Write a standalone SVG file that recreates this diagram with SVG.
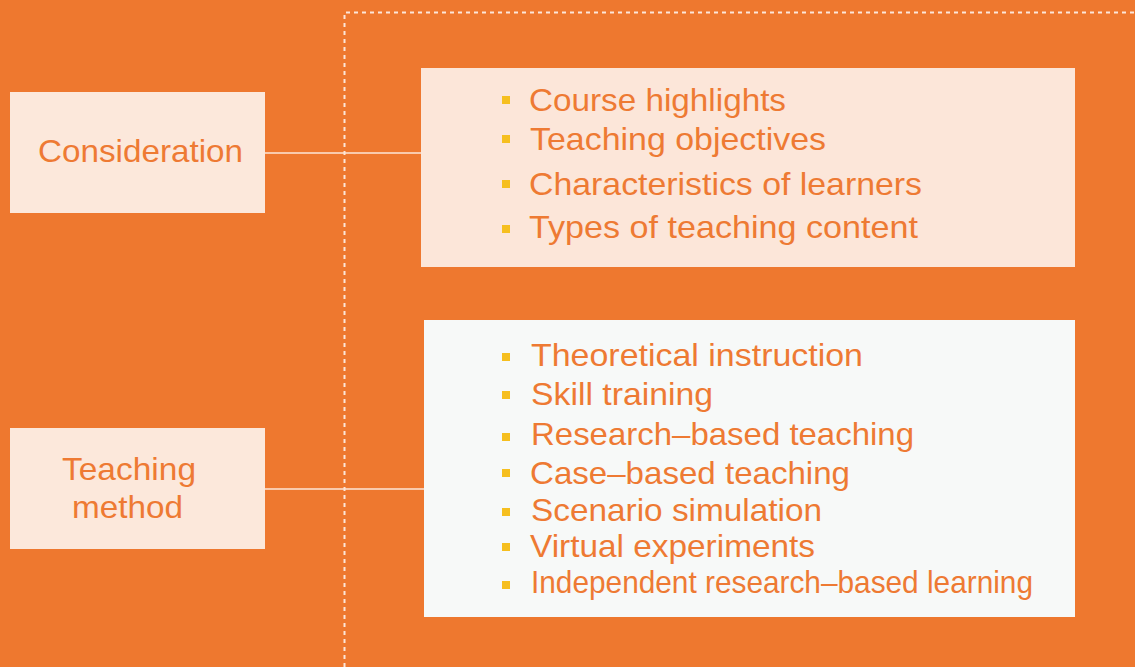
<svg xmlns="http://www.w3.org/2000/svg" width="1135" height="667" viewBox="0 0 1135 667">
<style>
.bg{fill:#EE782F}
.lbl{fill:#FCE8DB}
.txt{font-family:"Liberation Sans","Noto Sans",Arial,sans-serif;fill:#EE7A33}
.big{font-size:32px}
.item{font-size:32px}
.bul{fill:#F6BF1F}
.conn{stroke:#FCE6D9;stroke-width:1.5;fill:none}
.dash{stroke:#FCE6D9;stroke-width:2;fill:none;stroke-dasharray:4 4}
</style>
<rect class="bg" x="0" y="0" width="1135" height="667"/>
<path class="dash" d="M344.5,667 V12.5 H1135"/>
<g id="connectors">
<line class="conn" x1="265" y1="153" x2="421" y2="153"/>
<line class="conn" x1="265" y1="489" x2="424" y2="489"/>
</g>
<g id="consideration">
<rect class="lbl" x="10" y="92" width="255" height="121"/>
<text class="txt big" x="38" y="162" textLength="205" lengthAdjust="spacingAndGlyphs">Consideration</text>
</g>
<g id="teaching-method">
<rect class="lbl" x="10" y="428" width="255" height="121"/>
<text class="txt big" x="62" y="480" textLength="134" lengthAdjust="spacingAndGlyphs">Teaching</text>
<text class="txt big" x="72" y="518" textLength="111" lengthAdjust="spacingAndGlyphs">method</text>
</g>
<g id="consideration-items">
<rect x="421" y="68" width="654" height="199" fill="#FCE6D9"/>
<rect class="bul" x="502" y="96" width="8" height="8"/>
<rect class="bul" x="502" y="135" width="8" height="8"/>
<rect class="bul" x="502" y="180" width="8" height="8"/>
<rect class="bul" x="502" y="225" width="8" height="8"/>
<text class="txt item" x="529" y="111" textLength="257" lengthAdjust="spacingAndGlyphs">Course highlights</text>
<text class="txt item" x="530" y="150" textLength="296" lengthAdjust="spacingAndGlyphs">Teaching objectives</text>
<text class="txt item" x="529" y="195" textLength="393" lengthAdjust="spacingAndGlyphs">Characteristics of learners</text>
<text class="txt item" x="529" y="238" textLength="389" lengthAdjust="spacingAndGlyphs">Types of teaching content</text>
</g>
<g id="method-items">
<rect x="424" y="320" width="651" height="297" fill="#F7F9F8"/>
<rect class="bul" x="502" y="353" width="8" height="8"/>
<rect class="bul" x="502" y="391" width="8" height="8"/>
<rect class="bul" x="502" y="433" width="8" height="8"/>
<rect class="bul" x="502" y="469" width="8" height="8"/>
<rect class="bul" x="502" y="508" width="8" height="8"/>
<rect class="bul" x="502" y="543" width="8" height="8"/>
<rect class="bul" x="502" y="581" width="8" height="8"/>
<text class="txt item" x="531" y="366" textLength="332" lengthAdjust="spacingAndGlyphs">Theoretical instruction</text>
<text class="txt item" x="531" y="405" textLength="182" lengthAdjust="spacingAndGlyphs">Skill training</text>
<text class="txt item" x="531" y="445" textLength="383" lengthAdjust="spacingAndGlyphs">Research–based teaching</text>
<text class="txt item" x="530" y="484" textLength="320" lengthAdjust="spacingAndGlyphs">Case–based teaching</text>
<text class="txt item" x="531" y="521" textLength="291" lengthAdjust="spacingAndGlyphs">Scenario simulation</text>
<text class="txt item" x="530" y="557" textLength="285" lengthAdjust="spacingAndGlyphs">Virtual experiments</text>
<text class="txt item" x="531" y="593" textLength="502" lengthAdjust="spacingAndGlyphs">Independent research–based learning</text>
</g>
</svg>
